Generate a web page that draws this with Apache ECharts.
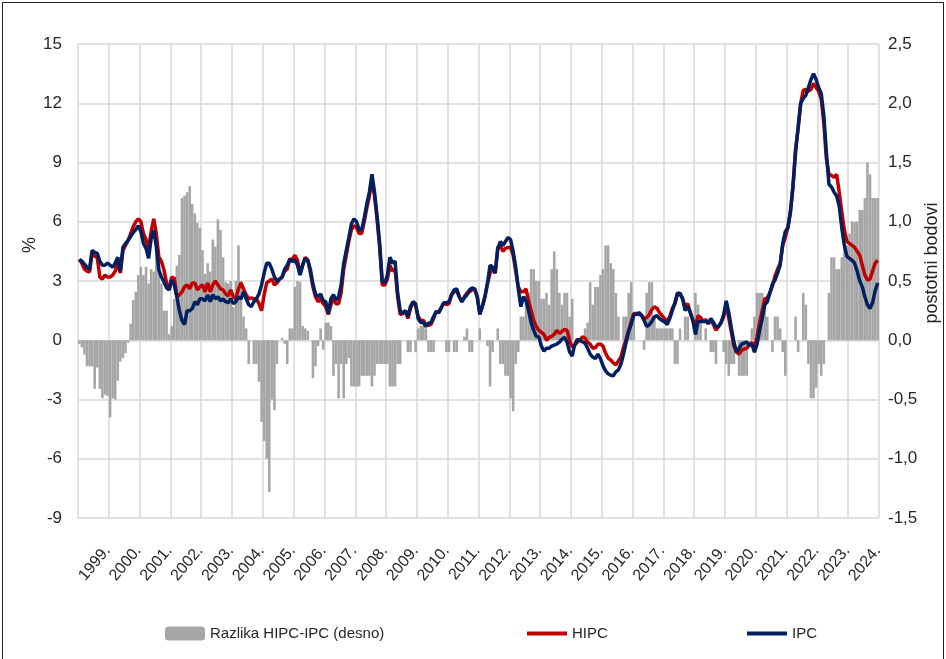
<!DOCTYPE html>
<html>
<head>
<meta charset="utf-8">
<script src="https://cdn.jsdelivr.net/npm/echarts@6/dist/echarts.min.js"></script>
<style>
html, body { margin: 0; padding: 0; background: #fff; }
#main { width: 946px; height: 659px; }
#frame { position: absolute; left: 2px; top: 2px; width: 940px; height: 700px; border: 1px solid #222; pointer-events: none; }
</style>
</head>
<body>
<div id="main"></div>
<div id="frame"></div>
<script>
// godine na osi (mjesečni podaci 1999.-2024.)
const years = [];
for (let y = 1999; y <= 2024; y++) years.push(y);
const months = [];
years.forEach(y => { for (let m = 1; m <= 12; m++) months.push(y + '-' + (m < 10 ? '0' + m : m)); });

// IPC, godišnja stopa %
const ipc = [
  4.1, 4.0, 3.85, 3.7, 3.6, 4.55, 4.45, 4.4, 4.0, 3.8, 3.8, 3.9,
  3.8, 3.7, 3.9, 4.2, 3.5, 4.7, 4.9, 5.05, 5.25, 5.45, 5.6, 5.8,
  5.5, 4.9, 4.65, 4.15, 5.15, 5.55, 4.75, 3.55, 3.2, 2.95, 2.65, 2.55,
  3.05, 2.8, 2.2, 1.5, 1.0, 0.8, 1.5, 1.5, 1.6, 1.95, 1.8, 2.1,
  2.1, 2.0, 2.3, 1.95, 2.3, 2.1, 2.2, 2.0, 2.1, 1.95, 1.9, 2.1,
  1.85, 1.95, 2.2, 2.1, 2.45, 2.1, 1.8, 1.7, 1.95, 2.1, 2.35, 2.8,
  3.4, 3.9, 3.9, 3.6, 3.2, 3.0, 3.1, 3.2, 3.6, 3.8, 4.1, 4.0,
  4.05, 3.8, 3.3, 3.8, 4.15, 4.05, 3.6, 2.85, 2.35, 2.2, 2.35, 2.0,
  1.95, 1.35, 2.1, 2.3, 2.05, 2.2, 2.8, 3.9, 4.55, 5.2, 5.9, 6.15,
  6.0, 5.6, 5.6, 6.2, 6.9, 7.5, 8.4, 7.5, 6.3, 4.9, 3.0, 2.9,
  3.3, 4.2, 3.9, 4.0, 2.4, 1.5, 1.35, 1.5, 1.2, 1.7, 1.95, 1.85,
  1.1, 0.9, 0.9, 0.7, 0.85, 0.9, 1.2, 1.45, 1.4, 1.65, 1.9, 1.9,
  1.95, 2.3, 2.55, 2.6, 2.2, 1.95, 2.15, 2.3, 2.55, 2.65, 2.6, 2.2,
  1.3, 1.7, 2.2, 2.9, 3.8, 3.7, 3.4, 4.6, 5.0, 4.8, 5.0, 5.2,
  5.1, 4.5, 3.7, 2.6, 1.7, 2.2, 2.0, 1.5, 0.9, 0.5, 0.2, 0.17,
  -0.3, -0.55, -0.4, -0.4, -0.3, -0.25, -0.2, -0.1, 0.05, 0.15, -0.1, -0.6,
  -0.8, -0.2, 0.05, 0.0, -0.08, -0.15, -0.4, -0.7, -0.85, -0.93, -0.7, -0.93,
  -1.3, -1.55, -1.7, -1.77, -1.8, -1.6, -1.5, -1.2, -0.7, -0.1, 0.45, 0.8,
  1.3, 1.3, 1.4, 1.27, 1.0, 0.7, 0.78, 0.95, 1.18, 1.25, 1.1, 1.0,
  0.93, 0.8, 1.1, 1.5, 1.9, 2.4, 2.35, 2.1, 1.5, 1.7, 1.4, 1.0,
  0.3, 0.95, 0.95, 0.95, 0.95, 0.85, 1.1, 0.9, 0.68, 0.7, 0.9, 1.3,
  2.0, 1.4, 0.6, -0.1, -0.6, -0.4, -0.2, -0.15, -0.1, -0.25, -0.2, -0.6,
  -0.2, 0.5, 1.1, 1.8, 1.95, 2.4, 2.85, 3.05, 3.4, 3.8, 4.9, 5.5,
  5.7, 6.5, 7.8, 9.5, 10.8, 12.0, 12.25, 12.4, 12.8, 13.2, 13.5, 13.2,
  12.8, 12.5, 11.4, 9.5, 7.9, 7.76, 7.5, 7.3, 6.8, 5.7, 4.8, 4.25,
  4.15, 4.05, 3.9, 3.5, 3.0, 2.7, 2.2, 1.8, 1.6, 1.9, 2.5, 2.9
];

// HIPC, godišnja stopa %
const hipc = [
  4.1, 3.9, 3.6, 3.5, 3.45, 4.45, 4.25, 4.2, 3.2, 3.1, 3.3, 3.2,
  3.2, 3.3, 3.5, 3.9, 3.4, 4.55, 4.8, 5.05, 5.4, 5.75, 6.0, 6.15,
  6.0, 5.4, 5.1, 4.65, 5.5, 6.15, 5.4, 4.2, 4.0, 3.55, 2.9, 2.55,
  3.2, 3.15, 2.2, 2.3, 2.45, 2.7, 2.8, 2.6, 2.9, 2.9, 2.55, 2.7,
  2.8, 2.45, 2.9, 2.45, 2.8, 3.0, 2.8, 2.6, 2.55, 2.35, 2.25, 2.55,
  2.2, 2.1, 2.6, 2.9, 2.6, 2.3, 2.1, 2.15, 2.1, 2.1, 1.85, 1.5,
  2.3, 2.9, 3.0, 3.1, 2.8, 2.9, 3.1, 3.2, 3.5, 3.6, 4.1, 4.1,
  4.3, 4.05, 3.35, 3.8, 4.2, 4.05, 3.45, 2.7, 2.2, 1.95, 2.1, 1.85,
  1.7, 1.3, 1.8, 2.1, 1.85, 1.85, 2.4, 3.6, 4.3, 5.0, 5.6, 5.8,
  5.7, 5.4, 5.4, 6.0, 6.7, 7.3, 8.1, 7.3, 6.1, 4.7, 2.8, 2.8,
  3.1, 3.8, 3.5, 3.6, 2.2, 1.3, 1.35, 1.5, 1.1, 1.6, 1.95, 1.75,
  1.2, 1.0, 1.0, 0.8, 0.75, 0.8, 1.1, 1.45, 1.4, 1.65, 1.9, 1.8,
  1.85, 2.3, 2.45, 2.5, 2.2, 1.95, 2.2, 2.4, 2.45, 2.55, 2.6, 2.2,
  1.4, 1.7, 2.2, 2.85, 3.4, 3.6, 3.4, 4.7, 4.8, 4.5, 4.65, 4.7,
  4.7, 4.3, 3.5, 2.7, 2.45, 2.45, 2.6, 2.0, 1.5, 1.0, 0.7, 0.5,
  0.4, 0.3, 0.0, 0.15, 0.2, 0.3, 0.5, 0.35, 0.45, 0.55, 0.5, 0.0,
  -0.35, -0.25, -0.1, 0.0, 0.17, 0.1, -0.1, -0.2, -0.4, -0.38, -0.2, -0.2,
  -0.3, -0.65, -0.9, -1.0, -1.15, -1.25, -1.05, -0.85, -0.35, 0.05, 0.5, 0.95,
  1.35, 1.35, 1.3, 1.27, 1.1, 1.15, 1.3, 1.55, 1.69, 1.62, 1.4, 1.25,
  1.1, 0.95, 1.2, 1.6, 1.85, 2.3, 2.4, 2.1, 1.7, 1.85, 1.4, 1.0,
  0.7, 1.25, 1.15, 0.95, 1.05, 0.85, 1.0, 0.8, 0.5, 0.7, 0.9, 1.2,
  1.8, 1.1, 0.4, -0.3, -0.6, -0.7, -0.5, -0.45, -0.4, -0.25, -0.1, -0.4,
  0.2, 0.9, 1.5, 2.1, 2.15, 2.4, 2.75, 3.25, 3.6, 3.9, 4.8, 5.2,
  5.7, 6.5, 7.8, 9.7, 10.7, 12.0, 12.65, 12.7, 12.6, 12.7, 13.0, 12.8,
  12.6, 12.2, 11.0, 9.2, 8.4, 8.35, 8.25, 8.4, 7.5, 6.5, 5.6, 5.0,
  4.9, 4.8, 4.7, 4.5, 4.3, 3.8, 3.3, 3.05, 3.1, 3.5, 3.9, 4.05
];

// razlika HIPC-IPC, postotni bodovi (desna os)
const razlika = [
  -0.03, -0.06, -0.12, -0.22, -0.22, -0.22, -0.41, -0.23, -0.41, -0.49, -0.46, -0.47,
  -0.65, -0.49, -0.5, -0.34, -0.18, -0.15, -0.11, -0.02, 0.14, 0.34, 0.41, 0.55,
  0.62, 0.55, 0.62, 0.48, 0.6, 0.58, 0.77, 0.67, 0.48, 0.25, 0.25, 0.05,
  0.12, 0.35, 0.63, 0.72, 1.2, 1.22, 1.25, 1.3, 1.15, 1.07, 0.99, 0.95,
  0.76, 0.56, 0.65, 0.58, 0.85, 0.79, 1.02, 0.93, 0.7, 0.49, 0.48, 0.5,
  0.28, 0.5, 0.8, 0.5, 0.2, 0.1, -0.2, 0.0, -0.2, -0.2, -0.35, -0.69,
  -0.85, -1.0, -1.28, -0.5, -0.59, -0.2, 0.0, 0.02, -0.03, -0.2, 0.1, 0.1,
  0.45, 0.5, 0.49, 0.12, 0.1, 0.08, 0.0, -0.32, -0.22, -0.05, 0.1, -0.08,
  0.15, 0.15, 0.12, -0.3, -0.2, -0.49, -0.2, -0.49, -0.2, -0.15, -0.39, -0.39,
  -0.39, -0.39, -0.3, -0.3, -0.3, -0.3, -0.39, -0.3, -0.2, -0.2, -0.2, -0.2,
  -0.2, -0.39, -0.39, -0.39, -0.2, -0.2, 0.0, 0.0, -0.1, -0.1, 0.0, -0.1,
  0.1, 0.12, 0.12, 0.1, -0.1, -0.1, -0.1, 0.0, 0.0, 0.0, 0.0, -0.1,
  -0.1, 0.0, -0.1, -0.1, 0.0, 0.0, 0.03, 0.1, -0.1, -0.1, 0.0, 0.0,
  0.1, 0.0, 0.0, -0.05, -0.39, -0.1, 0.0, 0.1, -0.2, -0.2, -0.3, -0.3,
  -0.49, -0.6, -0.2, -0.1, 0.2, 0.2, 0.37, 0.4, 0.6, 0.6, 0.5, 0.5,
  0.35, 0.35, 0.4, 0.3, 0.6, 0.75, 0.6, 0.4, 0.3, 0.4, 0.4, 0.2,
  0.35, 0.0, 0.0, 0.0, 0.0, 0.1, 0.15, 0.49, 0.3, 0.45, 0.45, 0.55,
  0.6, 0.8, 0.8, 0.65, 0.6, 0.4, 0.2, 0.0, 0.2, 0.2, 0.4, 0.49,
  0.2, 0.0, 0.0, 0.0, -0.08, 0.4, 0.49, 0.49, 0.2, 0.1, 0.1, 0.1,
  0.1, 0.1, 0.1, 0.1, -0.2, -0.2, 0.1, 0.0, 0.2, 0.2, 0.0, 0.0,
  0.4, 0.3, 0.2, 0.0, 0.1, 0.0, -0.1, -0.1, -0.2, 0.0, 0.0, -0.1,
  -0.2, -0.3, -0.2, -0.2, 0.0, -0.3, -0.3, -0.3, -0.3, 0.0, 0.1, 0.2,
  0.4, 0.4, 0.4, 0.3, 0.2, 0.0, -0.1, 0.2, 0.2, 0.1, -0.1, -0.3,
  0.0, 0.0, 0.0, 0.2, -0.1, 0.0, 0.4, 0.3, -0.2, -0.49, -0.49, -0.4,
  -0.2, -0.3, -0.2, 0.0, 0.4, 0.7, 0.7, 0.6, 0.6, 0.7, 0.8, 0.8,
  0.9, 1.0, 1.0, 1.0, 1.1, 1.1, 1.2, 1.5, 1.4, 1.2, 1.2, 1.2
];

const font = "'Liberation Sans', sans-serif";
const txtColor = '#262626';
const gridColor = '#D9D9D9';

let chart = echarts.init(document.getElementById('main'));
let option = {
    animation: false,
    textStyle: { fontFamily: font },
    grid: { left: 78, right: 67, top: 44, bottom: 141 },
    legend: [
        { data: ['Razlika HIPC-IPC (desno)'], left: 165, top: 626, padding: 0, itemWidth: 40, itemHeight: 14, itemGap: 5,
          textStyle: { fontFamily: font, fontSize: 15, color: txtColor } },
        { data: [{ name: 'HIPC', icon: 'rect' }], left: 527, top: 626, padding: 0, itemWidth: 40, itemHeight: 4,
          textStyle: { fontFamily: font, fontSize: 15, color: txtColor } },
        { data: [{ name: 'IPC', icon: 'rect' }], left: 747, top: 626, padding: 0, itemWidth: 40, itemHeight: 4,
          textStyle: { fontFamily: font, fontSize: 15, color: txtColor } }
    ],
    xAxis: [
        {
            type: 'category',
            data: months,
            boundaryGap: true,
            axisLine: { show: false },
            axisTick: { show: false },
            splitLine: { show: false },
            axisLabel: {
                interval: function (i) { return i % 12 === 11; },
                formatter: function (v) { return v.slice(0, 4) + '.'; },
                rotate: 50,
                margin: 30,
                fontSize: 16,
                color: txtColor
            }
        },
        {
            type: 'value',
            min: 0,
            max: 312,
            interval: 12,
            position: 'bottom',
            axisLine: { show: false },
            axisTick: { show: false },
            axisLabel: { show: false },
            splitLine: { show: true, lineStyle: { color: gridColor, width: 1.5 } }
        }
    ],
    yAxis: [
        {
            type: 'value',
            min: -9,
            max: 15,
            interval: 3,
            axisLine: { show: false },
            axisTick: { show: false },
            axisLabel: { fontSize: 17, color: txtColor, margin: 16 },
            splitLine: { lineStyle: { color: gridColor, width: 1.5 } }
        },
        {
            type: 'value',
            min: -1.5,
            max: 2.5,
            interval: 0.5,
            axisLine: { show: false },
            axisTick: { show: false },
            splitLine: { show: false },
            axisLabel: {
                fontSize: 17, color: txtColor, margin: 9,
                formatter: function (v) { return v.toFixed(1).replace('.', ','); }
            }
        }
    ],
    graphic: [
        { type: 'text', x: 30, y: 245, rotation: Math.PI / 2,
          style: { text: '%', fontSize: 18, fontFamily: font, fill: txtColor, align: 'center', verticalAlign: 'middle' } },
        { type: 'text', x: 932, y: 263, rotation: Math.PI / 2,
          style: { text: 'postotni bodovi', fontSize: 18, fontFamily: font, fill: txtColor, align: 'center', verticalAlign: 'middle' } }
    ],
    series: [
        {
            name: 'Razlika HIPC-IPC (desno)',
            type: 'bar',
            yAxisIndex: 1,
            data: razlika,
            barCategoryGap: '0%',
            itemStyle: { color: '#A6A6A6' }
        },
        {
            name: 'HIPC',
            type: 'line',
            data: hipc,
            showSymbol: false,
            lineStyle: { color: '#C00000', width: 3.5 },
            itemStyle: { color: '#C00000' }
        },
        {
            name: 'IPC',
            type: 'line',
            data: ipc,
            showSymbol: false,
            lineStyle: { color: '#002060', width: 3.5 },
            itemStyle: { color: '#002060' }
        }
    ]
};
chart.setOption(option);
</script>
</body>
</html>
